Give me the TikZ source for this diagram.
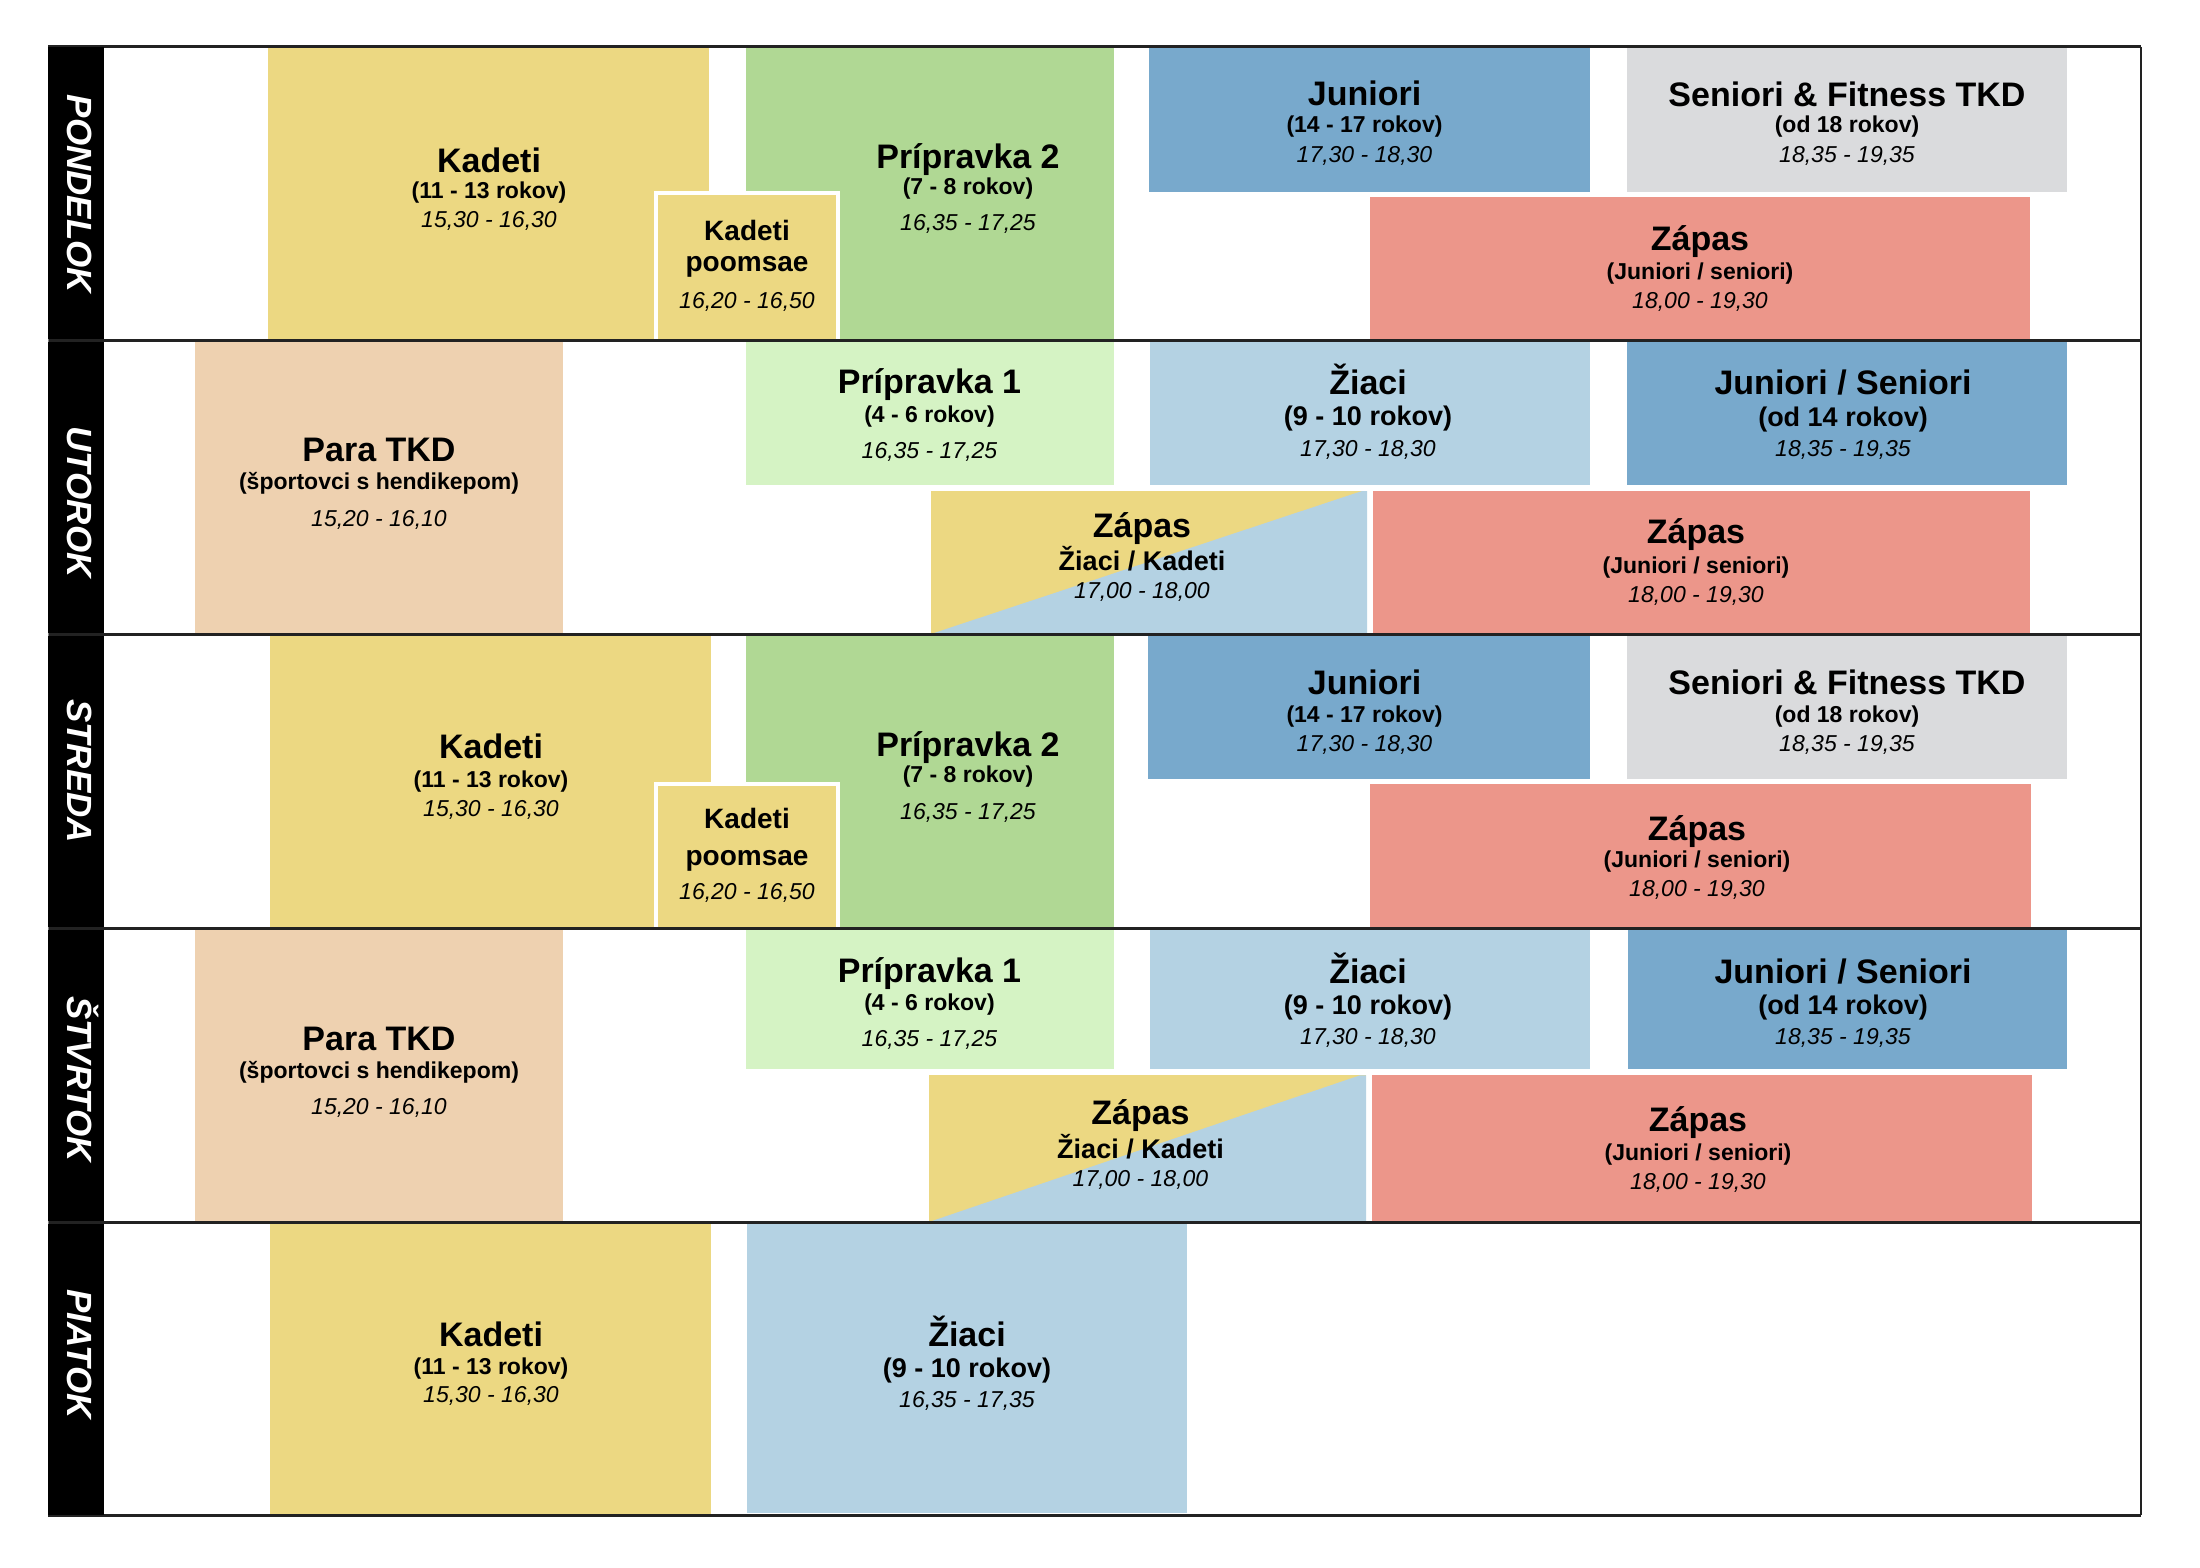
\documentclass[tikz,border=0pt]{standalone}
\usepackage{fontspec}
\setmainfont{Liberation Sans}
\definecolor{kyel}{RGB}{236,216,130}
\definecolor{kgrn}{RGB}{176,216,148}
\definecolor{kblu}{RGB}{120,169,204}
\definecolor{kgry}{RGB}{218,219,221}
\definecolor{kred}{RGB}{236,150,138}
\definecolor{kpch}{RGB}{238,209,176}
\definecolor{klgr}{RGB}{213,243,196}
\definecolor{klbl}{RGB}{180,210,227}
\definecolor{kline}{RGB}{34,34,34}
\begin{document}
\begin{tikzpicture}[x=1pt,y=-1pt,
  ttl/.style={anchor=base,inner sep=0pt,font=\fontsize{34}{34}\selectfont\bfseries},
  subt/.style={anchor=base,inner sep=0pt,font=\fontsize{23}{23}\selectfont\bfseries},
  subb/.style={anchor=base,inner sep=0pt,font=\fontsize{27}{27}\selectfont\bfseries},
  tim/.style={anchor=base,inner sep=0pt,font=\fontsize{23}{23}\selectfont\itshape},
  pms/.style={anchor=base,inner sep=0pt,font=\fontsize{28}{28}\selectfont\bfseries},
  dayl/.style={anchor=base,inner sep=0pt,rotate=-90,text=white,font=\fontsize{35}{35}\selectfont\bfseries\itshape},
  rowline/.style={line width=3pt,draw=kline},
  poom/.style={fill=kyel,draw=white,line width=4pt}]
\useasboundingbox[fill=white] (0,0) rectangle (2200,1568);

% ---------- Row 1: PONDELOK ----------
\fill[kyel] (268,47) rectangle (708.5,340.5);
\fill[kgrn] (745.7,47) rectangle (1114,340.5);
\filldraw[poom] (656,192.5) rectangle (838,342);
\fill[kblu] (1149,47) rectangle (1590,191.7);
\fill[kgry] (1627,47) rectangle (2067,191.7);
\fill[kred] (1370,197) rectangle (2030,340.5);

% ---------- Row 2: UTOROK ----------
\fill[kpch] (195,340.5) rectangle (563,634);
\fill[klgr] (746,340.5) rectangle (1114,485);
\fill[klbl] (1149.5,340.5) rectangle (1590,485);
\fill[kblu] (1627,340.5) rectangle (2067,485);
\fill[kyel] (931,491) rectangle (1367,634);
\fill[klbl] (931,634) -- (1362,491) -- (1367,491) -- (1367,634) -- cycle;
\fill[kred] (1373,491) rectangle (2030,634);

% ---------- Row 3: STREDA ----------
\fill[kyel] (270,634) rectangle (710.6,928);
\fill[kgrn] (746,634) rectangle (1114,928);
\filldraw[poom] (656,783.5) rectangle (838,930);
\fill[kblu] (1148.4,634) rectangle (1590,778.7);
\fill[kgry] (1627,634) rectangle (2067,778.5);
\fill[kred] (1370,784.3) rectangle (2031,928);

% ---------- Row 4: STVRTOK ----------
\fill[kpch] (195,928) rectangle (563,1222);
\fill[klgr] (746,928) rectangle (1114,1069);
\fill[klbl] (1149.5,928) rectangle (1590,1069);
\fill[kblu] (1628,928) rectangle (2067,1069);
\fill[kyel] (929,1075.3) rectangle (1366,1222);
\fill[klbl] (929,1222) -- (1360,1075.3) -- (1366,1075.3) -- (1366,1222) -- cycle;
\fill[kred] (1372,1075.3) rectangle (2032,1222);

% ---------- Row 5: PIATOK ----------
\fill[kyel] (270,1222) rectangle (711,1515);
\fill[klbl] (747,1222) rectangle (1187,1513);

% ---------- frame ----------
\foreach \yy in {47,340.5,634,928,1222,1515}
  \draw[rowline] (48,\yy) -- (2141,\yy);
\draw[line width=2pt,draw=kline] (2141,47) -- (2141,1515);
\draw[line width=1pt,draw=gray] (48,47) -- (48,1515);
\foreach \ya/\yb in {47/339,342/632.5,635.5/926.5,929.5/1220.5,1223.5/1515}
  \fill[black] (48,\ya) rectangle (104,\yb);

% ---------- day labels ----------
\node[dayl] (d1) at (67,194) {PONDELOK};
\node[dayl] (d2) at (67,502) {UTOROK};
\node[dayl] (d3) at (67,771) {STREDA};
\node[dayl] (d4) at (67,1079) {ŠTVRTOK};
\node[dayl] (d5) at (67,1354) {PIATOK};

% ---------- Row 1 texts ----------
\node[ttl] (r1kt) at (489,172) {Kadeti};
\node[subt] (r1ks) at (489,198.5) {(11 - 13 rokov)};
\node[tim] (r1kd) at (489,227.7) {15,30 - 16,30};
\node[ttl] (r1pt) at (968,168) {Prípravka 2};
\node[subt] (r1ps) at (968,194) {(7 - 8 rokov)};
\node[tim] (r1pd) at (968,230) {16,35 - 17,25};
\node[pms] (r1ot) at (747,240) {Kadeti};
\node[pms] (r1os) at (747,271.5) {poomsae};
\node[tim] (r1od) at (747,308) {16,20 - 16,50};
\node[ttl] (r1jt) at (1364.5,106) {Juniori};
\node[subt] (r1js) at (1364.5,132) {(14 - 17 rokov)};
\node[tim] (r1jd) at (1364.5,162) {17,30 - 18,30};
\node[ttl] (r1st) at (1847,106.5) {Seniori \& Fitness TKD};
\node[subt] (r1ss) at (1847,132.5) {(od 18 rokov)};
\node[tim] (r1sd) at (1847,162.5) {18,35 - 19,35};
\node[ttl] (r1zt) at (1700,250.5) {Zápas};
\node[subt] (r1zs) at (1700,279.5) {(Juniori / seniori)};
\node[tim] (r1zd) at (1700,308) {18,00 - 19,30};

% ---------- Row 2 texts ----------
\node[ttl] (r2at) at (379,461.7) {Para TKD};
\node[subt] (r2as) at (379,489.5) {(športovci s hendikepom)};
\node[tim] (r2ad) at (379,526.5) {15,20 - 16,10};
\node[ttl] (r2pt) at (929.5,393.5) {Prípravka 1};
\node[subt] (r2ps) at (929.5,422) {(4 - 6 rokov)};
\node[tim] (r2pd) at (929.5,458.5) {16,35 - 17,25};
\node[ttl] (r2zt) at (1368,394.5) {Žiaci};
\node[subb] (r2zs) at (1368,425) {(9 - 10 rokov)};
\node[tim] (r2zd) at (1368,456) {17,30 - 18,30};
\node[ttl] (r2jt) at (1843,394.5) {Juniori / Seniori};
\node[subb] (r2js) at (1843,426) {(od 14 rokov)};
\node[tim] (r2jd) at (1843,456) {18,35 - 19,35};
\node[ttl] (r2xt) at (1142,537.5) {Zápas};
\node[subb] (r2xs) at (1142,570.7) {Žiaci / Kadeti};
\node[tim] (r2xd) at (1142,598.5) {17,00 - 18,00};
\node[ttl] (r2rt) at (1696,543.5) {Zápas};
\node[subt] (r2rs) at (1696,573) {(Juniori / seniori)};
\node[tim] (r2rd) at (1696,602.5) {18,00 - 19,30};

% ---------- Row 3 texts ----------
\node[ttl] (r3kt) at (491,758.5) {Kadeti};
\node[subt] (r3ks) at (491,787) {(11 - 13 rokov)};
\node[tim] (r3kd) at (491,816) {15,30 - 16,30};
\node[ttl] (r3pt) at (968,756) {Prípravka 2};
\node[subt] (r3ps) at (968,782) {(7 - 8 rokov)};
\node[tim] (r3pd) at (968,819.5) {16,35 - 17,25};
\node[pms] (r3ot) at (747,828.5) {Kadeti};
\node[pms] (r3os) at (747,865) {poomsae};
\node[tim] (r3od) at (747,899.5) {16,20 - 16,50};
\node[ttl] (r3jt) at (1364.5,694) {Juniori};
\node[subt] (r3js) at (1364.5,722) {(14 - 17 rokov)};
\node[tim] (r3jd) at (1364.5,751) {17,30 - 18,30};
\node[ttl] (r3st) at (1847,694) {Seniori \& Fitness TKD};
\node[subt] (r3ss) at (1847,722) {(od 18 rokov)};
\node[tim] (r3sd) at (1847,751) {18,35 - 19,35};
\node[ttl] (r3zt) at (1697,840) {Zápas};
\node[subt] (r3zs) at (1697,867) {(Juniori / seniori)};
\node[tim] (r3zd) at (1697,896) {18,00 - 19,30};

% ---------- Row 4 texts ----------
\node[ttl] (r4at) at (379,1050) {Para TKD};
\node[subt] (r4as) at (379,1078) {(športovci s hendikepom)};
\node[tim] (r4ad) at (379,1114) {15,20 - 16,10};
\node[ttl] (r4pt) at (929.5,982.5) {Prípravka 1};
\node[subt] (r4ps) at (929.5,1010.5) {(4 - 6 rokov)};
\node[tim] (r4pd) at (929.5,1046.5) {16,35 - 17,25};
\node[ttl] (r4zt) at (1368,983.5) {Žiaci};
\node[subb] (r4zs) at (1368,1014.5) {(9 - 10 rokov)};
\node[tim] (r4zd) at (1368,1044) {17,30 - 18,30};
\node[ttl] (r4jt) at (1843,983.5) {Juniori / Seniori};
\node[subb] (r4js) at (1843,1014.5) {(od 14 rokov)};
\node[tim] (r4jd) at (1843,1044) {18,35 - 19,35};
\node[ttl] (r4xt) at (1140.5,1124) {Zápas};
\node[subb] (r4xs) at (1140.5,1158.3) {Žiaci / Kadeti};
\node[tim] (r4xd) at (1140.5,1186.5) {17,00 - 18,00};
\node[ttl] (r4rt) at (1698,1131.5) {Zápas};
\node[subt] (r4rs) at (1698,1160.5) {(Juniori / seniori)};
\node[tim] (r4rd) at (1698,1189.5) {18,00 - 19,30};

% ---------- Row 5 texts ----------
\node[ttl] (r5kt) at (491,1346.5) {Kadeti};
\node[subt] (r5ks) at (491,1374) {(11 - 13 rokov)};
\node[tim] (r5kd) at (491,1402.5) {15,30 - 16,30};
\node[ttl] (r5zt) at (967,1346.5) {Žiaci};
\node[subb] (r5zs) at (967,1377) {(9 - 10 rokov)};
\node[tim] (r5zd) at (967,1407) {16,35 - 17,35};
\end{tikzpicture}
\end{document}
